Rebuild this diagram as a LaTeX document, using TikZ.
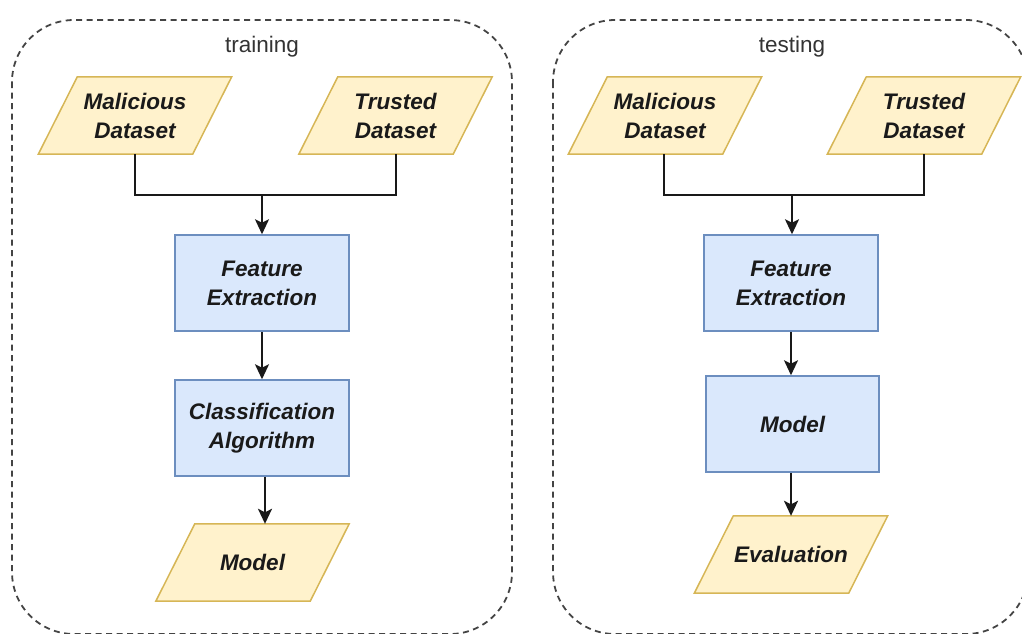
\documentclass[tikz,border=0pt]{standalone}
\usepackage{fontspec}
\setmainfont{Liberation Sans}
\usetikzlibrary{arrows.meta,backgrounds}

\definecolor{dataFill}{HTML}{FFF2CC}
\definecolor{dataLine}{HTML}{D6B656}
\definecolor{procFill}{HTML}{DAE8FC}
\definecolor{procLine}{HTML}{6C8EBF}
\definecolor{frameLine}{HTML}{444444}
\definecolor{frameText}{HTML}{333333}
\definecolor{labelText}{HTML}{1A1A1A}

\tikzset{
  frame/.style={draw=frameLine, line width=1.8pt, dash pattern=on 6pt off 4.5pt, rounded corners=62pt},
  frametitle/.style={text=frameText, font=\fontsize{22.5}{27}\selectfont, anchor=center},
  label/.style={text=labelText, font=\fontsize{22.5}{29}\selectfont\bfseries\itshape, align=center, inner sep=0pt},
  dataset/.style={label, minimum width=154pt, minimum height=77pt},
  procbox/.style={label, draw=procLine, fill=procFill, line width=1.5pt, minimum width=174pt, minimum height=96pt},
  paraface/.style={draw=dataLine, fill=dataFill, line width=1.5pt},
  link/.style={line width=2pt, black!90},
  flow/.style={link, -{Stealth[length=15pt, width=14pt, inset=3.5pt]}},
}

% slanted data shape drawn behind a named dataset node
\newcommand\slantbox[1]{%
  \path[paraface] ([xshift=19.5pt]#1.north west) -- ([xshift=19.5pt]#1.north east)
    -- ([xshift=-19.5pt]#1.south east) -- ([xshift=-19.5pt]#1.south west) -- cycle;}

\begin{document}
\begin{tikzpicture}[x=1pt, y=-1pt]
\useasboundingbox (0,0) rectangle (1022,633);

% group frames
\draw[frame] (12,20) rectangle (512,634);
\draw[frame] (553,20) rectangle (1028,634);
\node[frametitle] (trainTitle) at (262,47) {training};
\node[frametitle] (testTitle) at (792,47) {testing};

% training pipeline
\node[dataset] (malTrain) at (135,115.5) {Malicious\\Dataset};
\node[dataset] (trustTrain) at (395.5,115.5) {Trusted\\Dataset};
\node[procbox] (featTrain) at (262,283) {Feature\\Extraction};
\node[procbox] (classAlg) at (262,428) {Classification\\Algorithm};
\node[dataset] (modelOut) at (252.5,562.5) {Model};

% testing pipeline
\node[dataset] (malTest) at (665,115.5) {Malicious\\Dataset};
\node[dataset] (trustTest) at (924,115.5) {Trusted\\Dataset};
\node[procbox] (featTest) at (791,283) {Feature\\Extraction};
\node[procbox, minimum width=173pt] (modelTest) at (792.5,424) {Model};
\node[dataset] (evalOut) at (791,554.5) {Evaluation};

\begin{scope}[on background layer]
  \slantbox{malTrain}
  \slantbox{trustTrain}
  \slantbox{modelOut}
  \slantbox{malTest}
  \slantbox{trustTest}
  \slantbox{evalOut}
\end{scope}

% merge points of the dataset lines
\coordinate (joinTrain) at (262,195);
\coordinate (joinTest) at (792,195);

\draw[link] (malTrain.south) -- (malTrain.south |- joinTrain) -- (trustTrain.south |- joinTrain) -- (trustTrain.south);
\draw[flow] (joinTrain) -- (featTrain.north);
\draw[flow] (featTrain.south) -- (classAlg.north);
\draw[flow] ([xshift=3pt]classAlg.south) -- ([xshift=3pt]classAlg.south |- modelOut.north);

\draw[link] ([xshift=-1pt]malTest.south) -- ([xshift=-1pt]malTest.south |- joinTest) -- (trustTest.south |- joinTest) -- (trustTest.south);
\draw[flow] (joinTest) -- (joinTest |- featTest.north);
\draw[flow] (featTest.south) -- (featTest.south |- modelTest.north);
\draw[flow] (modelTest.south -| featTest.south) -- (featTest.south |- evalOut.north);
\end{tikzpicture}
\end{document}
